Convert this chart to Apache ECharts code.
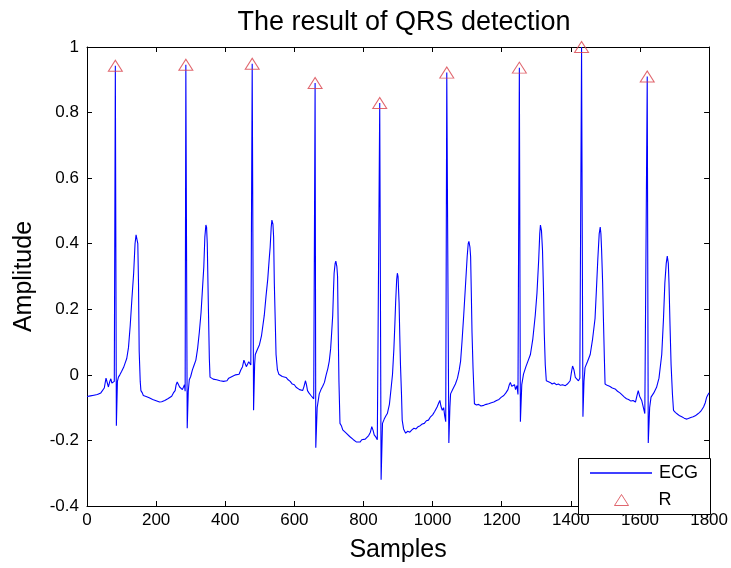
<!DOCTYPE html>
<html>
<head>
<meta charset="utf-8">
<script src="https://cdn.jsdelivr.net/npm/echarts@6/dist/echarts.min.js"></script>
<style>
html,body{margin:0;padding:0;background:#fff;}
#chart{width:731px;height:568px;}
</style>
</head>
<body>
<div id="chart"></div>
<script>
// ---- Data ----
var xTicks = [0, 200, 400, 600, 800, 1000, 1200, 1400, 1600, 1800];
var yTicks = [-0.4, -0.2, 0, 0.2, 0.4, 0.6, 0.8, 1];

var ecgSample = [
  0,5,10,15,20,25,30,35,40,45,50,55,58,62,66,69,72,76,79,82,85,88,91,95,100,106,110,115,120,125,130,135,139,142,145,147,149,151,154,156,160,163,167,171,175,180,185,190,195,200,205,210,216,220,225,230,235,240,245,250,255,258,261,264,268,272,276,279,282,284,
  286,290,293,296,300,305,310,315,320,325,330,334,338,341,344,346,348,351,354,356,360,365,370,375,380,385,390,395,400,405,410,415,420,425,430,435,440,445,450,454,457,461,465,468,470,474,
  478,482,485,487,492,499,505,513,518,523,527,530,533,535,538,540,542,545,547,551,555,560,565,570,576,582,588,594,600,605,610,615,620,624,628,632,635,638,642,648,652,656,
  660,662,666,672,677,682,687,692,697,701,705,708,711,713,715,718,720,723,725,727,729,732,736,740,745,750,755,760,765,770,775,780,785,790,795,800,805,810,815,820,824,828,831,836,840,844,
  847,851,855,860,865,869,875,880,884,888,891,893,896,898,900,903,905,907,910,912,916,922,928,934,940,946,952,958,964,970,976,982,988,994,1000,1006,1013,1018,1021,1024,1028,1032,1035,1038,
  1041,1047,1050,1052,1058,1066,1072,1077,1081,1085,1090,1095,1100,1103,1105,1108,1110,1112,1114,1117,1121,1127,1133,1140,1148,1155,1162,1170,1177,1185,1192,1199,1206,1212,1218,1222,1225,1229,1233,1237,1240,1244,1247,
  1251,1254,1258,1263,1270,1277,1283,1290,1297,1302,1307,1310,1312,1315,1318,1321,1323,1326,1329,1334,1340,1346,1352,1358,1364,1370,1376,1384,1390,1395,1398,1402,1405,1409,1413,1418,1422,1426,
  1431,1435,1438,1441,1448,1456,1463,1470,1474,1478,1482,1485,1487,1489,1492,1494,1497,1499,1505,1512,1520,1528,1535,1542,1549,1555,1561,1567,1574,1580,1587,1591,1595,1599,1605,1610,1614,
  1621,1624,1628,1632,1640,1648,1655,1663,1668,1672,1676,1679,1682,1684,1687,1690,1694,1697,1703,1709,1715,1721,1728,1734,1740,1747,1754,1760,1766,1772,1778,1784,1789,1793,1797,1800
];
var ecgAmplitude = [
  -0.066,-0.072,-0.064,-0.070,-0.062,-0.068,-0.060,-0.066,-0.055,-0.058,-0.040,-0.010,-0.015,-0.037,-0.020,-0.012,-0.025,-0.030,-0.020,0.943,-0.155,-0.020,-0.007,0.000,0.010,0.023,0.035,0.050,0.083,0.150,0.233,0.310,0.400,0.427,0.425,0.400,0.280,0.072,-0.020,-0.048,-0.055,-0.063,-0.058,-0.066,-0.062,-0.070,-0.068,-0.075,-0.072,-0.079,-0.076,-0.083,-0.082,-0.085,-0.078,-0.080,-0.072,-0.068,-0.065,-0.055,-0.048,-0.030,-0.022,-0.026,-0.037,-0.040,-0.045,-0.048,-0.030,-0.050,
  0.946,-0.163,-0.050,-0.015,-0.005,0.015,0.030,0.045,0.080,0.130,0.190,0.260,0.330,0.420,0.457,0.450,0.400,0.220,0.050,-0.007,-0.010,-0.013,-0.008,-0.015,-0.010,-0.018,-0.014,-0.020,-0.015,-0.018,-0.010,-0.012,-0.005,-0.008,0.000,0.005,0.002,0.015,0.025,0.045,0.042,0.025,0.022,0.040,0.037,0.030,
  0.949,-0.108,0.030,0.062,0.075,0.092,0.120,0.182,0.240,0.292,0.350,0.390,0.450,0.472,0.460,0.420,0.280,0.150,0.062,0.015,0.002,0.005,-0.005,-0.002,-0.008,-0.015,-0.020,-0.028,-0.030,-0.038,-0.040,-0.045,-0.043,-0.048,-0.035,-0.018,-0.030,-0.048,-0.055,-0.063,-0.068,-0.073,
  0.890,-0.222,-0.100,-0.058,-0.045,-0.035,-0.023,0.000,0.020,0.042,0.080,0.130,0.182,0.250,0.310,0.340,0.347,0.330,0.300,0.130,-0.020,-0.148,-0.155,-0.168,-0.170,-0.178,-0.182,-0.188,-0.192,-0.197,-0.200,-0.205,-0.200,-0.205,-0.198,-0.202,-0.196,-0.190,-0.185,-0.175,-0.158,-0.170,-0.183,-0.190,-0.198,-0.200,
  0.829,-0.320,-0.148,-0.135,-0.125,-0.118,-0.090,-0.040,0.002,0.080,0.160,0.220,0.290,0.310,0.300,0.220,0.120,0.032,-0.060,-0.138,-0.165,-0.178,-0.172,-0.175,-0.168,-0.163,-0.165,-0.158,-0.155,-0.150,-0.148,-0.140,-0.138,-0.128,-0.122,-0.112,-0.098,-0.085,-0.078,-0.095,-0.108,-0.100,-0.125,-0.143,
  0.922,-0.208,-0.100,-0.058,-0.045,-0.028,-0.010,0.015,0.042,0.100,0.182,0.270,0.360,0.400,0.407,0.390,0.360,0.250,0.130,0.020,-0.088,-0.092,-0.090,-0.095,-0.093,-0.090,-0.088,-0.085,-0.083,-0.078,-0.075,-0.068,-0.063,-0.055,-0.045,-0.030,-0.023,-0.035,-0.040,-0.030,-0.045,-0.033,-0.060,
  0.937,-0.143,-0.030,0.002,0.025,0.045,0.062,0.110,0.182,0.250,0.352,0.430,0.457,0.440,0.380,0.250,0.130,0.030,-0.018,-0.022,-0.023,-0.028,-0.025,-0.030,-0.028,-0.032,-0.030,-0.033,-0.028,-0.022,-0.018,0.010,0.027,0.015,-0.008,-0.012,-0.018,-0.010,
  1.000,-0.128,-0.020,0.022,0.040,0.062,0.110,0.172,0.260,0.352,0.430,0.451,0.430,0.380,0.280,0.182,0.050,-0.028,-0.032,-0.035,-0.040,-0.043,-0.050,-0.055,-0.062,-0.068,-0.073,-0.075,-0.080,-0.078,-0.083,-0.065,-0.048,-0.065,-0.078,-0.080,-0.118,
  0.910,-0.208,-0.100,-0.068,-0.055,-0.038,-0.010,0.062,0.170,0.280,0.340,0.362,0.340,0.280,0.150,0.032,-0.060,-0.108,-0.115,-0.120,-0.125,-0.128,-0.132,-0.135,-0.133,-0.130,-0.128,-0.125,-0.120,-0.115,-0.108,-0.098,-0.085,-0.068,-0.060,-0.055
];

var rSample = [82, 286, 478, 660, 847, 1041, 1251, 1431, 1621];
var rAmplitude = [0.943, 0.946, 0.949, 0.890, 0.829, 0.922, 0.937, 1.000, 0.910];

// ---- Build series data ----
var ecgData = ecgSample.map(function (x, i) { return [x, ecgAmplitude[i]]; });
var rData = rSample.map(function (x, i) { return [x, rAmplitude[i]]; });

var FONT = '"Liberation Sans", Arial, sans-serif';
var lineBlue = '#0000ff';
var rRed = '#d8404a';

var axisCommon = {
  type: 'value',
  axisLine: { show: true, onZero: false, lineStyle: { color: '#000', width: 1 } },
  axisTick: { show: true, inside: true, length: 5, lineStyle: { color: '#000' } },
  splitLine: { show: false }
};

var chart = echarts.init(document.getElementById('chart'), null, { renderer: 'canvas' });
chart.setOption({
  animation: false,
  backgroundColor: '#fff',
  title: {
    text: 'The result of QRS detection',
    left: 399, top: 4, textAlign: 'center',
    textStyle: { fontFamily: FONT, fontSize: 27, fontWeight: 'normal', color: '#000' }
  },
  grid: { left: 87, right: 20, top: 47, bottom: 54, containLabel: false },
  xAxis: [
    Object.assign({}, axisCommon, {
      min: xTicks[0], max: xTicks[xTicks.length - 1], interval: xTicks[1] - xTicks[0],
      position: 'bottom',
      axisLabel: { show: true, margin: 6, fontFamily: FONT, fontSize: 17, color: '#000',
        formatter: function (v) { return String(v); } },
      name: 'Samples', nameLocation: 'middle', nameGap: 32,
      nameTextStyle: { fontFamily: FONT, fontSize: 25, color: '#000' }
    }),
    Object.assign({}, axisCommon, {
      min: xTicks[0], max: xTicks[xTicks.length - 1], interval: xTicks[1] - xTicks[0],
      position: 'top', axisLabel: { show: false }
    })
  ],
  yAxis: [
    Object.assign({}, axisCommon, {
      min: yTicks[0], max: yTicks[yTicks.length - 1], interval: 0.2,
      position: 'left',
      axisLabel: { show: true, margin: 8, fontFamily: FONT, fontSize: 17, color: '#000' },
      name: 'Amplitude', nameLocation: 'middle', nameGap: 50,
      nameTextStyle: { fontFamily: FONT, fontSize: 25, color: '#000' }
    }),
    Object.assign({}, axisCommon, {
      min: yTicks[0], max: yTicks[yTicks.length - 1], interval: 0.2,
      position: 'right', axisLabel: { show: false }
    })
  ],
  legend: [
    {
      data: [{ name: 'ECG', icon: 'rect', itemStyle: { color: lineBlue, borderWidth: 0 } }],
      left: 590, top: 464, orient: 'vertical',
      itemWidth: 62, itemHeight: 1.5, padding: 0,
      textStyle: { fontFamily: FONT, fontSize: 18, color: '#000', padding: [0, 0, 0, 2] },
      selectedMode: false
    },
    {
      data: [{ name: 'R', icon: 'triangle', itemStyle: { color: 'rgba(0,0,0,0)', borderColor: rRed, borderWidth: 1 } }],
      left: 614, top: 491, orient: 'vertical',
      itemWidth: 14, itemHeight: 11, padding: 0,
      textStyle: { fontFamily: FONT, fontSize: 18, color: '#000', padding: [0, 0, 0, 25] },
      selectedMode: false
    }
  ],
  graphic: [
    {
      type: 'rect', z: 4,
      shape: { x: 578.5, y: 458.5, width: 132, height: 56 },
      style: { fill: '#fff', stroke: '#000', lineWidth: 1 }
    }
  ],
  series: [
    {
      name: 'ECG', type: 'line', data: ecgData,
      xAxisIndex: 0, yAxisIndex: 0,
      symbol: 'none', showSymbol: false, sampling: null,
      lineStyle: { color: lineBlue, width: 1.1 },
      itemStyle: { color: lineBlue },
      z: 2
    },
    {
      name: 'R', type: 'scatter', data: rData,
      xAxisIndex: 0, yAxisIndex: 0,
      symbol: 'triangle', symbolSize: [14, 11],
      itemStyle: { color: 'rgba(0,0,0,0)', borderColor: rRed, borderWidth: 1 },
      z: 3
    }
  ]
});
</script>
</body>
</html>
